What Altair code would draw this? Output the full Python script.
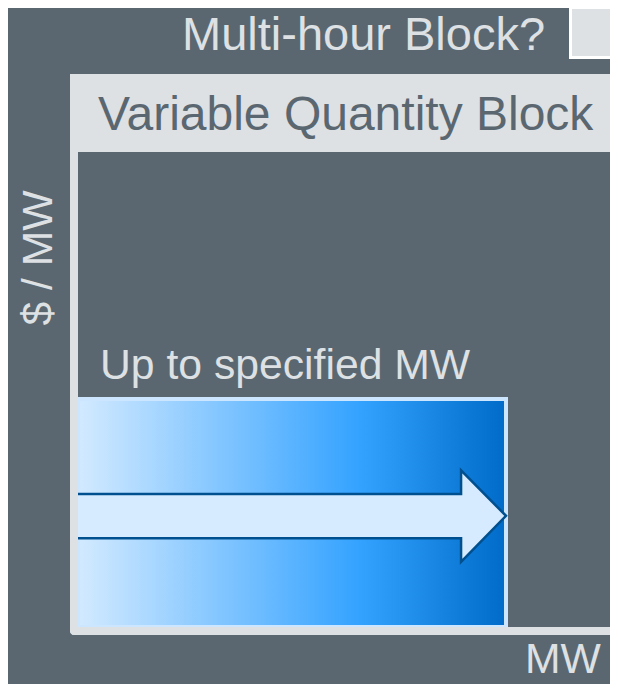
import altair as alt
import pandas as pd

# ---- values ----
block_mw = [0, 100]          # block quantity extent (MW)
block_price = [0, 48]        # block price level ($/MW)

arrow_mw = [0, 89.5, 89.51, 100]
arrow_top = [28.0, 28.0, 33.0, 23.4]
arrow_bottom = [18.7, 18.7, 13.7, 23.4]

outline_mw = [0, 89.5, 89.5, 100, 89.5, 89.5, 0]
outline_price = [28.0, 28.0, 33.0, 23.4, 13.7, 18.7, 18.7]

title_text = "Multi-hour Block?"
header_text = "Variable Quantity Block"
block_label = "Up to specified MW"
y_title = "$ / MW"
x_title = "MW"

BG = "#5B6770"
LIGHT = "#DDE1E4"
FONT = "Liberation Sans"

W = 602
H = 676
xs = alt.Scale(domain=[0, 100], range=[70, 498])
ys = alt.Scale(domain=[0, 100], range=[619, 144])

one = pd.DataFrame({"k": [0]})

block_df = pd.DataFrame({"x0": [block_mw[0]], "x1": [block_mw[1]],
                         "y0": [block_price[0]], "y1": [block_price[1]]})
arrow_df = pd.DataFrame({"mw": arrow_mw, "top": arrow_top, "bottom": arrow_bottom})
outline_df = pd.DataFrame({"mw": outline_mw, "price": outline_price,
                           "i": list(range(len(outline_mw)))})

gradient = {
    "gradient": "linear", "x1": 0, "x2": 1, "y1": 0, "y2": 0,
    "stops": [
        {"offset": 0, "color": "#D3EAFF"},
        {"offset": 0.66, "color": "#33A2FF"},
        {"offset": 1, "color": "#006BC9"},
    ],
}

header = alt.Chart(one).mark_rect(fill=LIGHT).encode(
    x=alt.value(62), x2=alt.value(W), y=alt.value(66), y2=alt.value(144))

checkbox = alt.Chart(one).mark_rect(fill=LIGHT, stroke="#FFFFFF", strokeWidth=3).encode(
    x=alt.value(562.5), x2=alt.value(640), y=alt.value(-0.5), y2=alt.value(49.5))

block = alt.Chart(block_df).mark_rect(fill=gradient, stroke="#CCE6FF", strokeWidth=4).encode(
    x=alt.X("x0:Q", scale=xs, axis=None), x2="x1:Q",
    y=alt.Y("y0:Q", scale=ys, axis=None), y2="y1:Q")

arrow_fill = alt.Chart(arrow_df).mark_area(color="#D6EBFF", opacity=1).encode(
    x=alt.X("mw:Q", scale=xs, axis=None),
    y=alt.Y("top:Q", scale=ys, axis=None), y2="bottom:Q")

arrow_line = alt.Chart(outline_df).mark_line(
    color="#00508F", strokeWidth=2.5, strokeJoin="miter").encode(
    x=alt.X("mw:Q", scale=xs, axis=None),
    y=alt.Y("price:Q", scale=ys, axis=None),
    order="i:Q")

vbar = alt.Chart(one).mark_rect(fill=LIGHT, cornerRadiusBottomLeft=4).encode(
    x=alt.value(62), x2=alt.value(70), y=alt.value(144), y2=alt.value(627))
hbar = alt.Chart(one).mark_rect(fill=LIGHT, cornerRadiusBottomLeft=4).encode(
    x=alt.value(62), x2=alt.value(W), y=alt.value(619), y2=alt.value(627))

def label(text, x, y, size, color, align="left", angle=0):
    return alt.Chart(one).mark_text(
        text=text, font=FONT, fontSize=size, color=color, align=align,
        baseline="alphabetic", angle=angle).encode(x=alt.value(x), y=alt.value(y))

t1 = label(title_text, 174, 42, 47, LIGHT)
t2 = label(header_text, 90, 122, 48, BG)
t3 = label(block_label, 92, 371, 42.7, LIGHT)
t4 = label(y_title, 44, 250, 42.7, LIGHT, align="center", angle=270)
t5 = label(x_title, 517, 665, 42.7, LIGHT)

chart = alt.layer(
    header, checkbox, block, arrow_fill, arrow_line, vbar, hbar, t1, t2, t3, t4, t5
).properties(
    width=W, height=H, background=BG, padding=0,
    autosize=alt.AutoSizeParams(type="none"),
).configure_view(stroke=None)

chart.save("out.html", embed_options={"renderer": "svg", "actions": False})
